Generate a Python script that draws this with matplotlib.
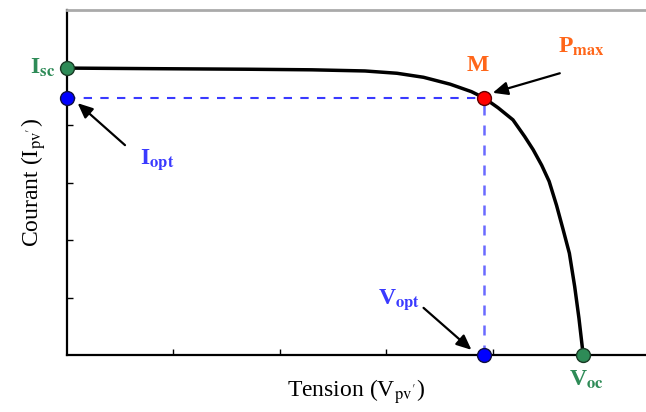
import matplotlib
matplotlib.use('Agg')
import matplotlib.pyplot as plt

plt.rcParams['font.family'] = ['Liberation Serif', 'DejaVu Serif']
plt.rcParams['mathtext.fontset'] = 'stix'

# I-V curve (x: tension, y: courant)
tension = [0.0, 0.8, 1.7, 2.3, 2.8, 3.1, 3.35, 3.6, 3.8, 3.92, 4.05, 4.19, 4.3, 4.38,
           4.46, 4.53, 4.6, 4.66, 4.72, 4.77, 4.81, 4.85]
courant = [4.99, 4.98, 4.97, 4.96, 4.94, 4.90, 4.83, 4.71, 4.58, 4.47, 4.30, 4.09, 3.80, 3.57,
           3.30, 3.02, 2.60, 2.19, 1.77, 1.19, 0.64, 0.0]

i_sc = 4.99
v_oc = 4.85
v_opt = 3.92
i_opt = 4.47

green = '#2e8b57'
blue = '#3a3aff'
orange = '#ff6619'

fig = plt.figure(figsize=(6.46, 4.12), dpi=100)
ax = fig.add_axes([0.1037, 0.1383, 0.8963, 0.8374])

ax.plot(tension, courant, color='black', lw=2.5, zorder=3, solid_joinstyle='round')
ax.plot([0, v_opt], [i_opt, i_opt], color='#3a3aff', ls=(0, (4, 4)), lw=1.5, zorder=2)
ax.plot([v_opt, v_opt], [0, i_opt], color='#6a6aff', ls=(0, (4, 4)), lw=1.8, zorder=2)

ms = 10
ax.plot([0], [i_sc], 'o', ms=ms, color=green, mec='#1a3a25', mew=1, clip_on=False, zorder=5)
ax.plot([0], [i_opt], 'o', ms=ms, color='#0000ff', mec='#101040', mew=1, clip_on=False, zorder=5)
ax.plot([v_opt], [i_opt], 'o', ms=ms, color='#ff0000', mec='#600000', mew=1, clip_on=False, zorder=5)
ax.plot([v_opt], [0], 'o', ms=ms, color='#0000ff', mec='#101040', mew=1, clip_on=False, zorder=5)
ax.plot([v_oc], [0], 'o', ms=ms, color=green, mec='#1a3a25', mew=1, clip_on=False, zorder=5)

ax.set_xlim(0, 5.44)
ax.set_ylim(0, 6)
ax.set_xticks([1, 2, 3, 4])
ax.set_yticks([1, 2, 3, 4, 5])
ax.tick_params(direction='in', length=4, width=1, labelbottom=False, labelleft=False)
ax.spines['right'].set_visible(False)
ax.spines['left'].set_linewidth(1.6)
ax.spines['bottom'].set_linewidth(1.6)
ax.spines['top'].set_color('#aaaaaa')
ax.spines['top'].set_linewidth(2)

ax.set_xlabel(r"Tension (V$_{\mathrm{pv'}}$)", fontsize=17, labelpad=16)
ax.set_ylabel(r"Courant (I$_{\mathrm{pv'}}$)", fontsize=17, labelpad=14)

arrow = dict(arrowstyle='-|>,head_length=0.9,head_width=0.4', color='black', lw=1.6,
             shrinkA=0, shrinkB=0)
ax.annotate('', xy=(0.10, 4.38), xytext=(0.545, 3.65), arrowprops=arrow, annotation_clip=False)
ax.annotate('', xy=(4.0, 4.56), xytext=(4.63, 4.90), arrowprops=arrow, annotation_clip=False)
ax.annotate('', xy=(3.80, 0.09), xytext=(3.35, 0.82), arrowprops=arrow, annotation_clip=False)

tk = dict(fontsize=17, fontweight='bold', clip_on=False)
ax.text(-0.11, i_sc, r"I$_{\mathbf{sc}}$", color=green, ha='right', va='center', **tk)
ax.text(0.685, 3.39, r"I$_{\mathbf{opt}}$", color=blue, ha='left', va='center', **tk)
ax.text(3.86, 5.03, "M", color=orange, ha='center', va='center', **tk)
ax.text(4.61, 5.36, r"P$_{\mathbf{max}}$", color=orange, ha='left', va='center', **tk)
ax.text(2.92, 0.97, r"V$_{\mathbf{opt}}$", color=blue, ha='left', va='center', **tk)
ax.text(4.88, -0.43, r"V$_{\mathbf{oc}}$", color=green, ha='center', va='center', **tk)

fig.savefig('out.png', dpi=100)
